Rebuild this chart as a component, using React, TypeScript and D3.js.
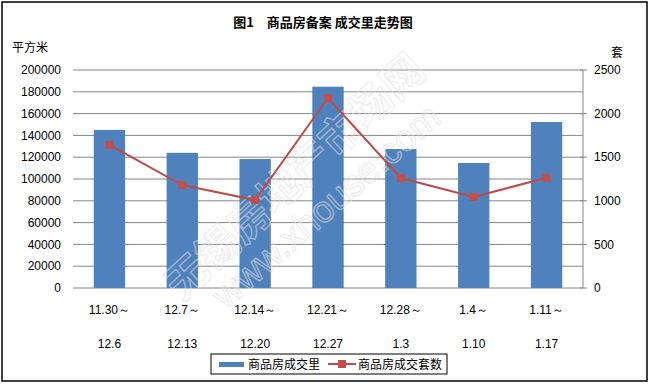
import React from "react";
import * as d3 from "d3";

const categoriesTop = ["11.30～", "12.7～", "12.14～", "12.21～", "12.28～", "1.4～", "1.11～"];
const categoriesBottom = ["12.6", "12.13", "12.20", "12.27", "1.3", "1.10", "1.17"];
const areaValues = [145000, 124000, 118300, 184700, 127500, 114700, 152300];
const unitValues = [1640, 1181, 1009, 2179, 1261, 1044, 1265];
const leftTicks = [0, 20000, 40000, 60000, 80000, 100000, 120000, 140000, 160000, 180000, 200000];
const rightTicks = [0, 500, 1000, 1500, 2000, 2500];

const W = 650;
const H = 384;
const CJK = "'Noto Sans CJK SC', sans-serif";
const NUM = "'Liberation Sans', 'Noto Sans', sans-serif";

export default function App() {
  const x = d3
    .scaleBand<number>()
    .domain(d3.range(categoriesTop.length))
    .range([73, 583])
    .paddingInner(0.57)
    .paddingOuter(0.285);
  const yL = d3.scaleLinear().domain([0, 200000]).range([288, 70]);
  const yR = d3.scaleLinear().domain([0, 2500]).range([288, 70]);
  const cx = (i: number) => (x(i) as number) + x.bandwidth() / 2;
  const line = d3
    .line<number>()
    .x((_, i) => cx(i))
    .y((d) => yR(d));

  return (
    <svg
      width={W}
      height={H}
      style={{ position: "absolute", left: 0, top: 0, background: "#fff" }}
    >
      <rect x={0} y={0} width={W} height={H} fill="#fff" />
      <rect x={2} y={2} width={645} height={379} fill="#fff" stroke="#000" strokeWidth={1.5} />

      <text x={323} y={27} textAnchor="middle" fontFamily={CJK} fontSize={13} fontWeight="bold" fill="#000">
        图1　商品房备案 成交里走势图
      </text>
      <text x={12} y={52} fontFamily={CJK} fontSize={12} fill="#000">
        平方米
      </text>
      <text x={611} y={57} fontFamily={CJK} fontSize={12} fill="#000">
        套
      </text>

      {/* gridlines */}
      {leftTicks.map((t) => (
        <line key={"g" + t} x1={73} x2={583} y1={yL(t)} y2={yL(t)} stroke="#868686" strokeWidth={1} />
      ))}
      {leftTicks.map((t) => (
        <text
          key={"l" + t}
          x={61}
          y={yL(t)}
          dy="0.35em"
          textAnchor="end"
          fontFamily={NUM}
          fontSize={12}
          fill="#000"
        >
          {t}
        </text>
      ))}

      {/* right axis */}
      <line x1={583} x2={583} y1={70} y2={288} stroke="#868686" strokeWidth={1} />
      {rightTicks.map((t) => (
        <g key={"r" + t}>
          <line x1={580} x2={587} y1={yR(t)} y2={yR(t)} stroke="#868686" strokeWidth={1} />
          <text x={594} y={yR(t)} dy="0.35em" fontFamily={NUM} fontSize={12} fill="#000">
            {t}
          </text>
        </g>
      ))}

      {/* bars */}
      {areaValues.map((v, i) => (
        <rect
          key={"b" + i}
          x={x(i)}
          y={yL(v)}
          width={x.bandwidth()}
          height={yL(0) - yL(v)}
          fill="#4F81BD"
        />
      ))}

      {/* watermark */}
      <g fill="none" stroke="#e2e2e2" strokeWidth={1.3} opacity={0.55}>
        <text transform="translate(182,302) rotate(-43)" fontFamily={CJK} fontSize={42} fontWeight="bold">
          无锡房地产市场网
        </text>
        <text transform="translate(226,310) rotate(-41)" fontFamily={NUM} fontSize={37}>
          www.xhouse.com
        </text>
      </g>

      {/* line */}
      <path d={line(unitValues) || ""} fill="none" stroke="#BE4B48" strokeWidth={2} />
      {unitValues.map((v, i) => (
        <rect key={"m" + i} x={cx(i) - 4} y={yR(v) - 4} width={8} height={8} fill="#C0504D" />
      ))}

      {/* x labels */}
      {categoriesTop.map((c, i) => (
        <text key={"xt" + i} x={cx(i)} y={314} textAnchor="middle" fontFamily={NUM} fontSize={12} fill="#000">
          {c}
        </text>
      ))}
      {categoriesBottom.map((c, i) => (
        <text key={"xb" + i} x={cx(i)} y={348} textAnchor="middle" fontFamily={NUM} fontSize={12} fill="#000">
          {c}
        </text>
      ))}

      {/* legend */}
      <rect x={211} y={354} width={236} height={20} fill="#fff" stroke="#000" strokeWidth={1} />
      <rect x={219} y={362} width={25} height={5} fill="#4F81BD" />
      <text x={248} y={368.5} fontFamily={CJK} fontSize={12} fill="#000">
        商品房成交里
      </text>
      <line x1={328} x2={356} y1={364} y2={364} stroke="#BE4B48" strokeWidth={2} />
      <rect x={338} y={360} width={8} height={8} fill="#C0504D" />
      <text x={358} y={368.5} fontFamily={CJK} fontSize={12} fill="#000">
        商品房成交套数
      </text>
    </svg>
  );
}
